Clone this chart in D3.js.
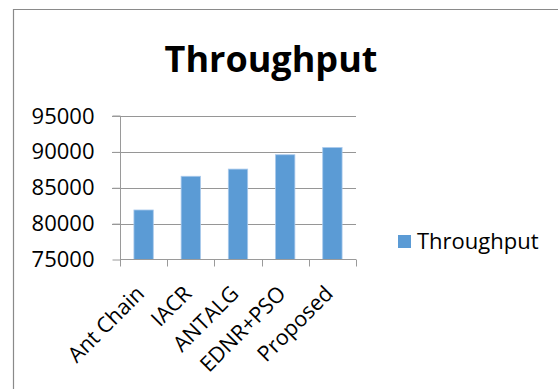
<!DOCTYPE html>
<html><head><meta charset="utf-8">
<script src="https://cdn.jsdelivr.net/npm/d3@7"></script>
<style>body{margin:0;background:#fff}svg{display:block}</style>
</head><body>
<script>
const categories = ["Ant Chain", "IACR", "ANTALG", "EDNR+PSO", "Proposed"];
const throughput = [81900, 86600, 87600, 89600, 90600];
const yTicks = [75000, 80000, 85000, 90000, 95000];
const seriesName = "Throughput";
const titleText = "Throughput";

const W = 558, H = 389;
const font = "'Open Sans', sans-serif";
const svg = d3.select("body").append("svg").attr("width", W).attr("height", H);

// frame
svg.append("path").attr("d", `M13.5,${H+2} L13.5,9.5 L${W+2},9.5`)
  .attr("fill", "none").attr("stroke", "#8a8a8a").attr("stroke-width", 1.2);

svg.append("text").attr("x", 271).attr("y", 72).attr("text-anchor", "middle")
  .attr("font-family", font).attr("font-weight", "bold").attr("font-size", 36)
  .attr("fill", "#000").text(titleText);

const x = d3.scaleBand().domain(categories).range([120, 356]).paddingInner(0.59).paddingOuter(0.295);
const xb = d3.scaleBand().domain(categories).range([120, 356]);
const y = d3.scaleLinear().domain([75000, 95000]).range([259.5, 116]);

// gridlines
svg.append("g").selectAll("line").data(yTicks.slice(1)).join("line")
  .attr("x1", 112).attr("x2", 356).attr("y1", d => Math.round(y(d)) + 0.5).attr("y2", d => Math.round(y(d)) + 0.5)
  .attr("stroke", "#969696").attr("stroke-width", 1);

// bars
svg.append("g").selectAll("rect").data(throughput).join("rect")
  .attr("x", (d, i) => x(categories[i])).attr("width", x.bandwidth())
  .attr("y", d => y(d)).attr("height", d => y(75000) - y(d))
  .attr("fill", "#5b9bd5").attr("stroke", "#a9c9ec").attr("stroke-width", 0.8);

// y axis
const yAxis = d3.axisLeft(y).tickValues(yTicks).tickSize(8).tickPadding(18).tickFormat(d3.format("d"));
const gy = svg.append("g").attr("transform", "translate(120.5,0)").call(yAxis);
gy.select(".domain").attr("stroke", "#9a9a9a").attr("d", `M-8,${y(95000)}H0V${y(75000)}`);
gy.selectAll(".tick line").attr("stroke", "#9a9a9a");
gy.selectAll(".tick text").attr("font-family", font).attr("font-size", 22).attr("fill", "#000");

// x axis
const xAxis = d3.axisBottom(xb).tickSize(0).tickFormat("");
const gx = svg.append("g").attr("transform", "translate(0,259.5)").call(xAxis);
gx.select(".domain").attr("stroke", "#9a9a9a").attr("d", "M120,0H356");
const bounds = [120].concat(categories.map(c => xb(c) + xb.bandwidth()));
gx.selectAll("line.tk").data(bounds).join("line").attr("class", "tk")
  .attr("x1", d => Math.round(d) + 0.5).attr("x2", d => Math.round(d) + 0.5).attr("y1", 0).attr("y2", 7)
  .attr("stroke", "#9a9a9a");

svg.append("g").selectAll("text").data(categories).join("text")
  .attr("transform", c => `translate(${xb(c) + xb.bandwidth() / 2 + 2},${295}) rotate(-45)`)
  .attr("text-anchor", "end").attr("font-family", font).attr("font-size", 21.5).attr("fill", "#000")
  .text(c => c);

// legend
svg.append("rect").attr("x", 398).attr("y", 235).attr("width", 13).attr("height", 13).attr("fill", "#5b9bd5");
svg.append("text").attr("x", 417).attr("y", 249).attr("font-family", font).attr("font-size", 22)
  .attr("fill", "#000").text(seriesName);
</script>
</body></html>
